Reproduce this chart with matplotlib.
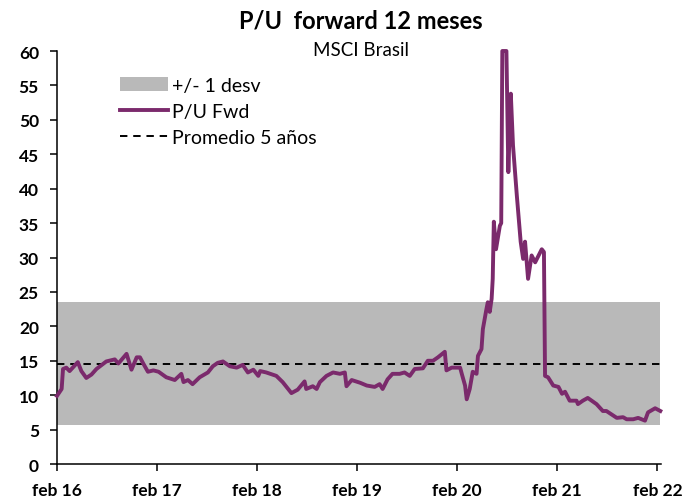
import matplotlib
matplotlib.use("Agg")
import matplotlib.pyplot as plt
import pandas as pd
from matplotlib.patches import Patch
from matplotlib.lines import Line2D

plt.rcParams['font.family'] = ['Lato', 'DejaVu Sans']

fechas = [
    "2016-02-01", "2016-02-18", "2016-02-23", "2016-03-06", "2016-03-18", "2016-04-17",
    "2016-04-30", "2016-05-18", "2016-06-06", "2016-06-24", "2016-07-30", "2016-08-30",
    "2016-09-12", "2016-10-12", "2016-10-30", "2016-11-18", "2016-11-30", "2016-12-12",
    "2016-12-29", "2017-01-18", "2017-02-06", "2017-03-06", "2017-04-06", "2017-04-30",
    "2017-05-08", "2017-05-24", "2017-06-10", "2017-07-06", "2017-08-05", "2017-08-23",
    "2017-09-10", "2017-09-29", "2017-10-24", "2017-11-18", "2017-12-10", "2017-12-29",
    "2018-01-18", "2018-02-05", "2018-02-12", "2018-03-06", "2018-04-12", "2018-05-05",
    "2018-06-06", "2018-06-29", "2018-07-24", "2018-07-30", "2018-08-23", "2018-09-06",
    "2018-09-18", "2018-10-12", "2018-11-05", "2018-11-30", "2018-12-18", "2018-12-24",
    "2019-01-12", "2019-02-12", "2019-03-08", "2019-04-06", "2019-04-24", "2019-05-05",
    "2019-05-23", "2019-06-10", "2019-07-06", "2019-07-24", "2019-08-12", "2019-08-30",
    "2019-09-29", "2019-10-17", "2019-11-05", "2019-11-23", "2019-12-18", "2019-12-24",
    "2020-01-12", "2020-02-12", "2020-02-18", "2020-03-01", "2020-03-07", "2020-03-18",
    "2020-03-29", "2020-04-12", "2020-04-17", "2020-04-30", "2020-05-05", "2020-05-18",
    "2020-05-23", "2020-05-30", "2020-06-06", "2020-06-10", "2020-06-14", "2020-06-22",
    "2020-07-06", "2020-07-11", "2020-07-15", "2020-07-30", "2020-08-06", "2020-08-15",
    "2020-08-23", "2020-09-06", "2020-09-20", "2020-09-29", "2020-10-06", "2020-10-12",
    "2020-10-17", "2020-10-30", "2020-11-12", "2020-12-06", "2020-12-14", "2020-12-18",
    "2020-12-29", "2021-01-17", "2021-02-05", "2021-02-18", "2021-03-01", "2021-03-18",
    "2021-04-12", "2021-04-17", "2021-05-05", "2021-05-23", "2021-06-24", "2021-07-17",
    "2021-07-30", "2021-09-06", "2021-09-29", "2021-10-12", "2021-11-05", "2021-11-23",
    "2021-12-18", "2021-12-29", "2022-01-24", "2022-02-12",
]

pu_fwd = [
    9.9, 10.9, 13.8, 14.0, 13.5, 14.8,
    13.5, 12.5, 13.0, 13.8, 14.9, 15.2,
    14.6, 16.0, 13.7, 15.5, 15.5, 14.6,
    13.4, 13.6, 13.4, 12.6, 12.2, 13.1,
    11.9, 12.2, 11.6, 12.6, 13.3, 14.2,
    14.7, 14.9, 14.2, 14.0, 14.4, 13.3,
    13.7, 12.8, 13.5, 13.3, 12.8, 11.9,
    10.3, 10.8, 12.0, 10.9, 11.3, 10.9,
    11.9, 12.8, 13.3, 13.1, 13.3, 11.3,
    12.2, 11.8, 11.4, 11.2, 11.6, 10.9,
    12.3, 13.1, 13.1, 13.3, 12.8, 13.8,
    13.9, 15.0, 15.0, 15.5, 16.3, 13.6,
    14.0, 14.0, 13.1, 11.4, 9.4, 10.9,
    13.4, 13.1, 15.7, 16.7, 19.6, 22.5,
    23.5, 22.1, 24.0, 26.9, 35.2, 31.2,
    34.6, 35.0, 60.0, 60.0, 42.4, 53.8,
    46.3, 39.0, 32.3, 29.8, 32.3, 29.3,
    26.9, 30.3, 29.3, 31.2, 30.8, 12.8,
    12.6, 11.4, 11.2, 10.2, 10.5, 9.2,
    9.2, 8.7, 9.2, 9.6, 8.7, 7.7,
    7.7, 6.7, 6.8, 6.5, 6.5, 6.7,
    6.3, 7.5, 8.1, 7.7,
]

promedio_5a = 14.55
desv_inf = 5.6
desv_sup = 23.5
banda_ini, banda_fin = "2016-02-01", "2022-02-12"

tick_fechas = ["2016-02-01", "2017-02-01", "2018-02-01", "2019-02-01",
               "2020-02-01", "2021-02-01", "2022-02-01"]
tick_labels = ["feb 16", "feb 17", "feb 18", "feb 19", "feb 20", "feb 21", "feb 22"]

x = pd.to_datetime(fechas)
bx = pd.to_datetime([banda_ini, banda_fin])

fig = plt.figure(figsize=(6.85, 5.02), dpi=100)
ax = fig.add_axes([0.0832, 0.0737, 0.882, 0.8227])

purple = "#7B2A6C"
gray = "#b9b9b9"
dash = (0, (3.8, 3))
ax.fill_between(bx, [desv_inf] * 2, [desv_sup] * 2, color=gray, lw=0, zorder=1)
ax.plot(bx, [promedio_5a] * 2, color="black", lw=1.4, ls=dash, zorder=2)
ax.plot(x, pu_fwd, color=purple, lw=2.8, zorder=3, clip_on=False, solid_joinstyle="round")

ax.set_ylim(0, 60)
ax.set_yticks(range(0, 61, 5))
ax.set_xlim(pd.Timestamp("2016-02-01"), pd.Timestamp("2022-02-15"))
ax.set_xticks(pd.to_datetime(tick_fechas))
ax.set_xticklabels(tick_labels)

for s in ["top", "right"]:
    ax.spines[s].set_visible(False)
for s in ["left", "bottom"]:
    ax.spines[s].set_linewidth(1.1)
    ax.spines[s].set_color("black")
ax.tick_params(direction="out", length=5, width=1.1, colors="black")
ax.tick_params(axis="y", pad=8)
ax.tick_params(axis="x", pad=8)
for lbl in ax.get_xticklabels() + ax.get_yticklabels():
    lbl.set_fontweight("bold")
    lbl.set_fontsize(12.5)

fig.text(0.527, 0.958, "P/U  forward 12 meses", ha="center", va="center",
         fontsize=17, fontweight="bold")
fig.text(0.527, 0.900, "MSCI Brasil", ha="center", va="center", fontsize=13.5)

handles = [
    Patch(facecolor=gray, edgecolor="none", label="+/- 1 desv"),
    Line2D([0], [0], color=purple, lw=2.8, label="P/U Fwd"),
    Line2D([0], [0], color="black", lw=1.4, ls=dash, label="Promedio 5 años"),
]
ax.legend(handles=handles, loc="upper left", bbox_to_anchor=(0.104, 0.937),
          frameon=False, fontsize=14, handlelength=2.5, handletextpad=0.2,
          labelspacing=0.45, borderaxespad=0, borderpad=0)

fig.savefig("out.png", dpi=100)
